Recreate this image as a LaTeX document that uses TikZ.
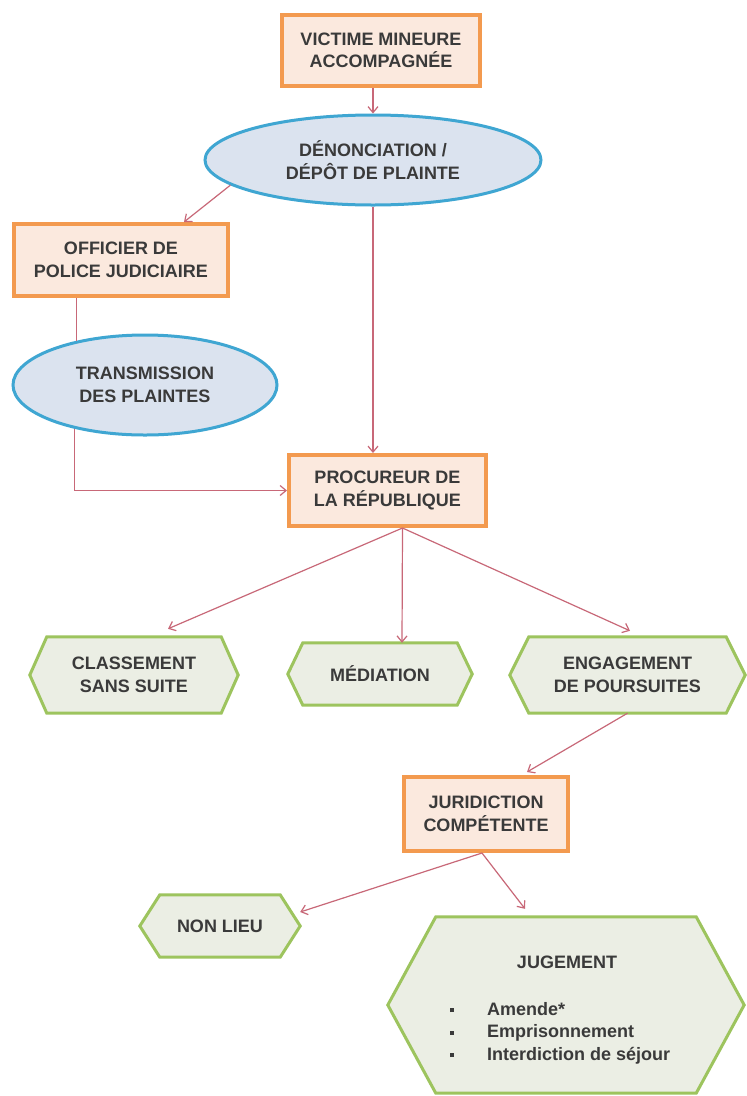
\documentclass[tikz,border=0pt]{standalone}
\usepackage{fontspec}
\setmainfont{Liberation Sans}
\usetikzlibrary{shapes.geometric,arrows.meta,calc,backgrounds}
\definecolor{obord}{HTML}{F39A4F}
\definecolor{ofill}{HTML}{FBE9DE}
\definecolor{bbord}{HTML}{3FA6D2}
\definecolor{bfill}{HTML}{DBE3EF}
\definecolor{gbord}{HTML}{9DC45E}
\definecolor{gfill}{HTML}{EBEEE4}
\definecolor{conncol}{HTML}{C86878}
\definecolor{txt}{HTML}{3A3A3A}
\newcommand{\hexbg}[2]{%
  \begin{scope}[on background layer]
    \path[hexline] (#1.west) -- ($(#1.north west)+(#2,0)$) -- ($(#1.north east)+(-#2,0)$)
      -- (#1.east) -- ($(#1.south east)+(-#2,0)$) -- ($(#1.south west)+(#2,0)$) -- cycle;
  \end{scope}}
\begin{document}
\begin{tikzpicture}[x=1pt,y=-1pt,
  every node/.style={font=\fontsize{18}{22.5}\selectfont\bfseries, text=txt, align=center},
  obox/.style={rectangle, draw=obord, fill=ofill, line width=4pt, inner sep=0pt},
  bell/.style={ellipse, draw=bbord, fill=bfill, line width=3pt, inner sep=0pt},
  hexn/.style={rectangle, inner sep=0pt},
  hexline/.style={draw=gbord, fill=gfill, line width=3pt, line join=miter},
  conn/.style={draw=conncol, line width=1.2pt},
  arr/.style={conn, -{Straight Barb[length=6pt,width=10pt]}},
]
\begin{scope}[on background layer]
  \fill[white] (0,0) rectangle (747,1096);
\end{scope}
\useasboundingbox (0,0) rectangle (747,1096);

% orange boxes
\node[obox, minimum width=198pt, minimum height=71pt] (vict) at (381,50.5) {VICTIME MINEURE\\ACCOMPAGNÉE};
\node[obox, minimum width=214pt, minimum height=72pt] (off) at (121,260) {OFFICIER DE\\POLICE JUDICIAIRE};
\node[obox, minimum width=197pt, minimum height=71pt] (proc) at (387.5,490.5) {PROCUREUR DE\\LA RÉPUBLIQUE};
\node[obox, minimum width=164pt, minimum height=74pt] (jur) at (486,814) {JURIDICTION\\COMPÉTENTE};

% ellipses
\node[bell, minimum width=336pt, minimum height=90pt] (den) at (373,160) {DÉNONCIATION /\\DÉPÔT DE PLAINTE};
\node[bell, minimum width=264pt, minimum height=100pt] (trans) at (145,385) {TRANSMISSION\\DES PLAINTES};

% hexagons
\node[hexn, minimum width=208pt, minimum height=76pt] (cls) at (134,675) {CLASSEMENT\\SANS SUITE};
\hexbg{cls}{17}
\node[hexn, minimum width=184pt, minimum height=62pt] (med) at (380,674) {MÉDIATION};
\hexbg{med}{15}
\node[hexn, minimum width=235pt, minimum height=76pt] (eng) at (627.5,675) {ENGAGEMENT\\DE POURSUITES};
\hexbg{eng}{19}
\node[hexn, minimum width=160pt, minimum height=62pt] (nl) at (220,926) {NON LIEU};
\hexbg{nl}{20}
\node[hexn, minimum width=356pt, minimum height=176pt] (jug) at (566,1005) {};
\hexbg{jug}{48}
\node (jugt) at (567,962) {JUGEMENT};
\node[anchor=west, inner sep=0pt, align=left] (jugl) at (450,1033)
  {\begin{tabular}{@{}l@{\hspace{33pt}}l@{}}
   \rule[3pt]{4pt}{4pt} & Amende*\\
   \rule[3pt]{4pt}{4pt} & Emprisonnement\\
   \rule[3pt]{4pt}{4pt} & Interdiction de séjour
   \end{tabular}};

% connectors
\draw[arr] (vict.south -| den.north) -- (den.north);
\draw[arr] (den.190) -- ($(off.north east)+(-46,0)$);
\draw[conn] (off.south -| trans.147.8) -- (trans.147.8);
\draw[arr] (trans.212.2) |- (proc.west);
\draw[arr] (den.south) -- (den.south |- proc.north);
\coordinate (pb) at ($(proc.south)+(15,0)$);
\draw[arr] (pb) -- ($(cls.north)+(34,-8)$);
\draw[arr] (pb) -- ($(med.north)+(22,0)$);
\draw[arr] (pb) -- ($(eng.north)+(2.5,-6)$);
\draw[arr] (eng.south) -- ($(jur.north)+(41,-3)$);
\draw[arr] ($(jur.south)+(-4,0)$) -- ($(nl.east)+(0,-14)$);
\draw[arr] ($(jur.south)+(-4,0)$) -- ($(jug.north)+(-41,-8)$);
\end{tikzpicture}
\end{document}
